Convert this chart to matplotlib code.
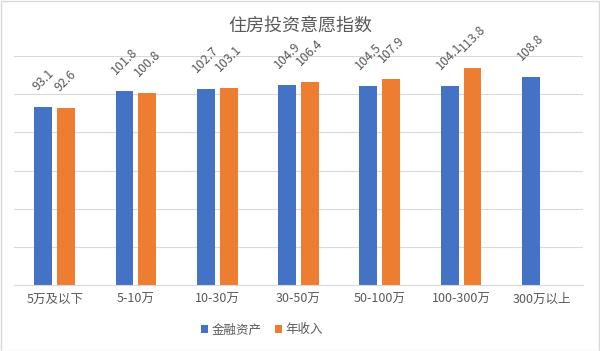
import numpy as np
import matplotlib.pyplot as plt
from matplotlib.patches import Rectangle

plt.rcParams['font.family'] = ['Noto Sans CJK SC', 'DejaVu Sans']

categories = ['5万及以下', '5-10万', '10-30万', '30-50万', '50-100万', '100-300万', '300万以上']
assets = [93.1, 101.8, 102.7, 104.9, 104.5, 104.1, 108.8]
income = [92.6, 100.8, 103.1, 106.4, 107.9, 113.8, np.nan]
series_names = ['金融资产', '年收入']

blue = '#4472C4'
orange = '#ED7D31'
txt = '#595959'

fig = plt.figure(figsize=(6, 3.51), dpi=100)
ax = fig.add_axes([14/600, 1-285/351, 569/600, 229/351])

x = np.arange(len(categories))
w = 0.22
b1 = ax.bar(x - 0.14, assets, w, color=blue, label=series_names[0], zorder=2)
b2 = ax.bar(x + 0.14, income, w, color=orange, label=series_names[1], zorder=2)

for bars, vals in ((b1, assets), (b2, income)):
    for rect, v in zip(bars, vals):
        if np.isnan(v):
            continue
        ax.annotate('%.1f' % v, xy=(rect.get_x() + rect.get_width()/2, v),
                    xytext=(0, 10), textcoords='offset points',
                    ha='center', va='bottom', rotation=45,
                    fontsize=9, color=txt)

ax.set_xlim(-0.5, len(categories) - 0.5)
ax.set_ylim(0, 120)
ax.set_yticks(np.arange(0, 121, 20))
ax.yaxis.grid(True, color='#D9D9D9', linewidth=0.8, zorder=0)
ax.set_yticklabels([])
ax.tick_params(axis='y', length=0)
ax.set_xticks(x)
ax.set_xticklabels(categories, fontsize=9, color=txt)
ax.tick_params(axis='x', length=0, pad=6)
for s in ['top', 'right', 'left']:
    ax.spines[s].set_visible(False)
ax.spines['bottom'].set_color('#D9D9D9')

fig.text(0.5, 1 - 26/351, '住房投资意愿指数', ha='center', va='center',
         fontsize=13, color=txt)

fig.legend(loc='center', bbox_to_anchor=(262/600, 1 - 330/351), ncol=2,
           frameon=False, fontsize=9, handlelength=0.6, handleheight=0.6,
           handletextpad=0.3, columnspacing=1.0, labelcolor=txt)

fig.patches.append(Rectangle((0.001, 0.001), 0.997, 0.996, transform=fig.transFigure,
                             fill=False, edgecolor='#D9D9D9', linewidth=1))

fig.savefig('out.png', dpi=100)
